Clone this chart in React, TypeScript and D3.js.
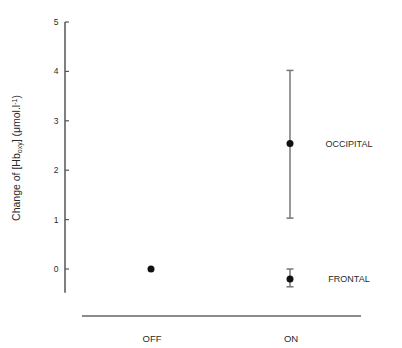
import React from "react";
import * as d3 from "d3";

const yTicks = [0, 1, 2, 3, 4, 5];
const conditions = ["OFF", "ON"];
const seriesNames = ["OCCIPITAL", "FRONTAL"];
const offValue = [0];
const onMeans = [2.54, -0.2];
const onLow = [1.03, -0.36];
const onHigh = [4.02, 0.0];

export default function App() {
  const W = 402, H = 348;
  const y = d3.scaleLinear().domain([0, 5]).range([269, 22]);
  const x = d3.scalePoint<string>().domain(conditions).range([151, 290]);
  const axisX = 65;
  const font = "Liberation Sans, Arial, sans-serif";
  const txt = "#2a2a2a";
  return (
    <svg width={W} height={H} style={{ position: "absolute", left: 0, top: 0, background: "#fff" }}>
      {/* y axis */}
      <line x1={axisX} x2={axisX} y1={y(5)} y2={y(-0.48)} stroke="#555" strokeWidth={1.5} />
      {yTicks.map((t) => (
        <g key={t}>
          <line x1={axisX} x2={axisX + 4} y1={y(t)} y2={y(t)} stroke="#555" strokeWidth={1.2} />
          <text x={56} y={y(t) + 3} fontSize={8.5} fontFamily={font} fill={txt} textAnchor="middle">
            {t}
          </text>
        </g>
      ))}
      <text
        transform={`translate(20,158) rotate(-90)`}
        fontSize={10.5}
        fontFamily={font}
        fill={txt}
        textAnchor="middle"
      >
        Change of [Hb
        <tspan fontSize={7} dy={2}>oxy</tspan>
        <tspan dy={-2}>] (μmol.l</tspan>
        <tspan fontSize={7} dy={-3}>-1</tspan>
        <tspan dy={3}>)</tspan>
      </text>
      {/* x baseline */}
      <line x1={82} x2={361} y1={316} y2={316} stroke="#666" strokeWidth={1.5} />
      {conditions.map((c) => (
        <text key={c} x={x(c)! + 1} y={342} fontSize={9.5} fontFamily={font} fill={txt} textAnchor="middle">
          {c}
        </text>
      ))}
      {/* OFF point */}
      {offValue.map((v, i) => (
        <circle key={"off" + i} cx={x("OFF")!} cy={y(v)} r={3.5} fill="#111" />
      ))}
      {/* ON points with error bars */}
      {onMeans.map((m, i) => {
        const cx = x("ON")!;
        return (
          <g key={seriesNames[i]}>
            <line x1={cx} x2={cx} y1={y(onHigh[i])} y2={y(onLow[i])} stroke="#999" strokeWidth={2} />
            <line x1={cx - 3.5} x2={cx + 3.5} y1={y(onHigh[i])} y2={y(onHigh[i])} stroke="#777" strokeWidth={1.5} />
            <line x1={cx - 3.5} x2={cx + 3.5} y1={y(onLow[i])} y2={y(onLow[i])} stroke="#777" strokeWidth={1.5} />
            <circle cx={cx} cy={y(m)} r={3.5} fill="#111" />
            <text x={349} y={y(m) + 3} fontSize={9} fontFamily={font} fill={txt} textAnchor="middle">
              {seriesNames[i]}
            </text>
          </g>
        );
      })}
    </svg>
  );
}
